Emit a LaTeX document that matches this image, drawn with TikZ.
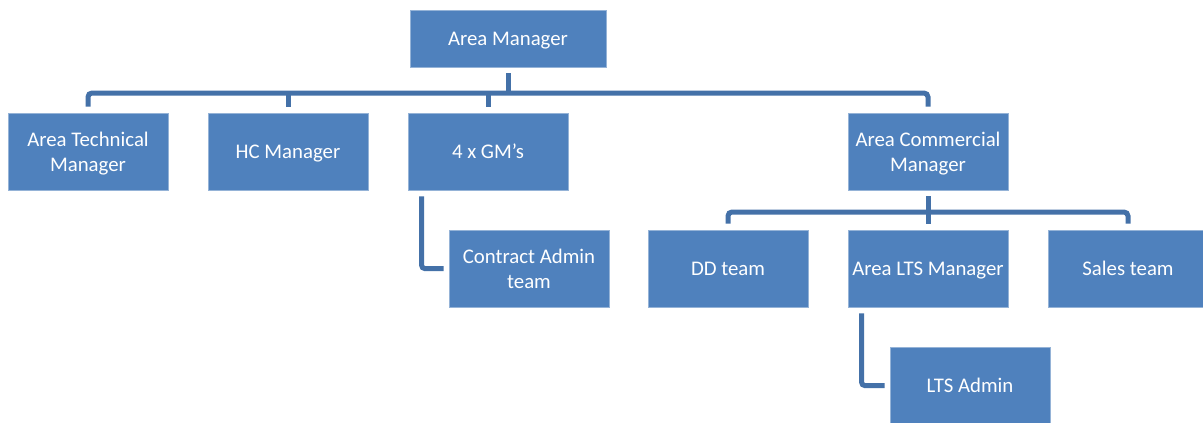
\documentclass[tikz,border=0pt]{standalone}
\usepackage{fontspec}
\setmainfont{Carlito}
\definecolor{boxblue}{HTML}{4F81BD}
\definecolor{lineblue}{HTML}{4471A8}
\begin{document}
\begin{tikzpicture}[x=1pt,y=-1pt,
  box/.style={rectangle, fill=boxblue, draw=boxblue!60!white, line width=0.6pt, text=white, align=center,
    minimum width=160pt, minimum height=77pt, inner sep=0pt, text depth=0pt, font=\fontsize{20.8}{25}\selectfont},
  conn/.style={draw=lineblue, line width=5pt}]
\useasboundingbox (0,0) rectangle (1203,423);
\fill[white] (0,0) rectangle (1203,423);
\node[box, minimum width=196pt, minimum height=57pt] (AM) at (508,38.5) {Area Manager};
\node[box] (ATM) at (88,151.5) {Area Technical\\Manager};
\node[box] (HC) at (288,151.5) {HC Manager};
\node[box] (GM) at (488,151.5) {4 x GM’s};
\node[box] (ACM) at (928,151.5) {Area Commercial\\Manager};
\node[box] (CA) at (529,268.5) {Contract Admin\\team};
\node[box] (DD) at (728,268.5) {DD team};
\node[box] (LTSM) at (928,268.5) {Area LTS Manager};
\node[box] (Sales) at (1128,268.5) {Sales team};
\node[box] (LTSA) at (970,385.5) {LTS Admin};
\coordinate (b1) at (508,93);
\coordinate (b2) at (928,212);
\draw[conn] ([yshift=-6pt]AM.south) -- (AM.south |- b1);
\draw[conn, rounded corners=4pt] ([yshift=6pt]ATM.north) |- (b1) -| ([yshift=6pt]ACM.north);
\draw[conn] ([yshift=6pt]HC.north) -- (HC.north |- b1);
\draw[conn] ([yshift=6pt]GM.north) -- (GM.north |- b1);
\draw[conn, rounded corners=3pt] ([xshift=14pt,yshift=-6pt]GM.south west) |- ([xshift=-5pt]CA.west);
\draw[conn] ([yshift=-6pt]ACM.south) -- (ACM.south |- b2);
\draw[conn, rounded corners=4pt] ([yshift=6pt]DD.north) |- (b2) -| ([yshift=6pt]Sales.north);
\draw[conn] ([yshift=6pt]LTSM.north) -- (LTSM.north |- b2);
\draw[conn, rounded corners=3pt] ([xshift=14pt,yshift=-6pt]LTSM.south west) |- ([xshift=-5pt]LTSA.west);
\end{tikzpicture}
\end{document}
